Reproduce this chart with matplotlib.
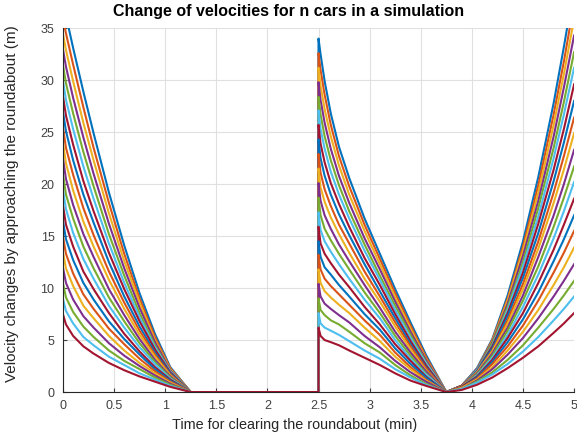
import matplotlib
matplotlib.use("Agg")
import matplotlib.pyplot as plt

# MATLAB default line colour order
colors = ["#0072BD", "#D95319", "#EDB120", "#7E2F8E", "#77AC30", "#4DBEEE", "#A2142F"]

# sample times (min) for each phase; every phase ends (or starts) at 0 m
t_brake1 = [0.0, 0.03, 0.1, 0.2, 0.3, 0.45, 0.6, 0.75, 0.9, 1.05]
t_wait = [1.25, 2.5]
t_brake2 = [2.5, 2.52, 2.56, 2.62, 2.7, 2.8, 2.95, 3.1, 3.25, 3.4, 3.55]
t_accel = [3.75, 3.9, 4.05, 4.2, 4.35, 4.5, 4.65, 4.8, 4.9, 5.0]

# velocities, one row per car (outer curve first)
brake1 = [
    [37.5, 36.2, 33.1, 28.9, 24.9, 19.2, 14.1, 9.5, 5.6, 2.4],
    [36.0, 34.5, 31.5, 27.4, 23.5, 18.2, 13.3, 9.0, 5.3, 2.3],
    [34.5, 32.9, 29.9, 25.9, 22.3, 17.2, 12.6, 8.6, 5.0, 2.2],
    [33.0, 31.3, 28.3, 24.5, 21.0, 16.2, 11.9, 8.1, 4.8, 2.1],
    [31.5, 29.7, 26.8, 23.1, 19.8, 15.2, 11.2, 7.6, 4.5, 2.0],
    [30.0, 28.1, 25.3, 21.7, 18.6, 14.3, 10.5, 7.2, 4.3, 2.0],
    [28.5, 26.6, 23.8, 20.3, 17.4, 13.4, 9.9, 6.8, 4.1, 1.9],
    [27.0, 25.1, 22.3, 19.0, 16.3, 12.5, 9.2, 6.3, 3.8, 1.8],
    [25.5, 23.5, 20.9, 17.7, 15.1, 11.6, 8.6, 5.9, 3.6, 1.7],
    [24.0, 22.0, 19.4, 16.4, 14.0, 10.8, 8.0, 5.5, 3.4, 1.6],
    [22.5, 20.5, 18.0, 15.2, 13.0, 9.9, 7.4, 5.1, 3.1, 1.5],
    [21.0, 19.0, 16.7, 14.0, 11.9, 9.1, 6.8, 4.7, 2.9, 1.4],
    [19.5, 17.6, 15.3, 12.8, 10.9, 8.3, 6.2, 4.3, 2.7, 1.3],
    [18.0, 16.1, 14.0, 11.6, 9.9, 7.6, 5.6, 3.9, 2.4, 1.2],
    [16.5, 14.7, 12.7, 10.5, 8.9, 6.8, 5.1, 3.6, 2.2, 1.1],
    [15.0, 13.3, 11.4, 9.4, 8.0, 6.1, 4.6, 3.2, 2.0, 1.0],
    [13.5, 11.9, 10.2, 8.3, 7.1, 5.4, 4.0, 2.8, 1.8, 0.9],
    [12.0, 10.5, 8.9, 7.3, 6.2, 4.7, 3.5, 2.5, 1.6, 0.8],
    [10.5, 9.1, 7.7, 6.3, 5.3, 4.0, 3.0, 2.2, 1.4, 0.7],
    [9.0, 7.8, 6.6, 5.3, 4.5, 3.4, 2.6, 1.8, 1.2, 0.6],
    [7.5, 6.5, 5.4, 4.4, 3.7, 2.8, 2.1, 1.5, 1.0, 0.5],
]
brake2 = [
    [34.0, 32.5, 29.9, 26.8, 23.6, 20.6, 16.7, 13.3, 9.9, 6.7, 3.6],
    [32.6, 31.0, 28.6, 25.7, 22.7, 19.8, 16.1, 12.8, 9.5, 6.4, 3.4],
    [31.2, 29.5, 27.2, 24.6, 21.8, 19.0, 15.5, 12.3, 9.1, 6.1, 3.2],
    [29.8, 28.1, 25.9, 23.4, 20.8, 18.2, 14.8, 11.8, 8.7, 5.8, 3.1],
    [28.4, 26.7, 24.6, 22.3, 19.9, 17.4, 14.2, 11.2, 8.3, 5.5, 2.9],
    [27.1, 25.3, 23.4, 21.2, 19.0, 16.7, 13.6, 10.8, 7.9, 5.2, 2.8],
    [25.7, 23.9, 22.1, 20.1, 18.1, 15.9, 12.9, 10.3, 7.5, 4.9, 2.6],
    [24.3, 22.5, 20.8, 19.0, 17.1, 15.1, 12.3, 9.7, 7.1, 4.6, 2.4],
    [22.9, 21.1, 19.5, 17.9, 16.1, 14.3, 11.6, 9.2, 6.7, 4.4, 2.3],
    [21.5, 19.7, 18.3, 16.8, 15.2, 13.4, 10.9, 8.7, 6.3, 4.1, 2.1],
    [20.1, 18.4, 17.0, 15.7, 14.2, 12.6, 10.3, 8.1, 5.8, 3.8, 2.0],
    [18.7, 17.0, 15.7, 14.6, 13.3, 11.8, 9.6, 7.6, 5.4, 3.5, 1.8],
    [17.3, 15.6, 14.5, 13.5, 12.3, 10.9, 8.9, 7.1, 5.0, 3.2, 1.7],
    [15.9, 14.3, 13.3, 12.4, 11.3, 10.1, 8.2, 6.5, 4.6, 3.0, 1.5],
    [14.5, 13.0, 12.0, 11.3, 10.3, 9.2, 7.5, 6.0, 4.2, 2.7, 1.4],
    [13.2, 11.8, 10.9, 10.2, 9.4, 8.4, 6.9, 5.5, 3.8, 2.4, 1.2],
    [11.8, 10.5, 9.7, 9.1, 8.4, 7.6, 6.2, 4.9, 3.4, 2.2, 1.1],
    [10.4, 9.2, 8.5, 8.0, 7.4, 6.7, 5.4, 4.3, 3.0, 1.9, 1.0],
    [9.0, 7.9, 7.4, 6.9, 6.5, 5.8, 4.7, 3.8, 2.6, 1.6, 0.8],
    [7.6, 6.6, 6.2, 5.9, 5.5, 4.9, 4.0, 3.2, 2.2, 1.4, 0.7],
    [6.2, 5.4, 5.0, 4.8, 4.5, 4.0, 3.3, 2.6, 1.8, 1.1, 0.6],
]
accel = [
    [0.6, 2.3, 5.1, 9.3, 14.5, 20.7, 27.8, 33.2, 39.0],
    [0.6, 2.2, 5.0, 9.0, 14.0, 19.9, 26.7, 31.8, 37.4],
    [0.6, 2.2, 4.9, 8.8, 13.6, 19.2, 25.7, 30.6, 35.9],
    [0.6, 2.2, 4.8, 8.5, 13.1, 18.4, 24.6, 29.3, 34.3],
    [0.6, 2.1, 4.7, 8.2, 12.5, 17.7, 23.5, 27.9, 32.7],
    [0.6, 2.1, 4.5, 7.9, 12.1, 16.9, 22.5, 26.7, 31.2],
    [0.6, 2.0, 4.4, 7.6, 11.5, 16.2, 21.4, 25.3, 29.6],
    [0.6, 2.0, 4.2, 7.3, 11.0, 15.3, 20.3, 24.0, 28.0],
    [0.6, 1.9, 4.0, 6.9, 10.4, 14.5, 19.2, 22.7, 26.4],
    [0.5, 1.9, 3.9, 6.6, 9.9, 13.8, 18.2, 21.4, 24.9],
    [0.5, 1.8, 3.7, 6.2, 9.3, 13.0, 17.0, 20.0, 23.3],
    [0.5, 1.7, 3.5, 5.9, 8.8, 12.1, 15.9, 18.7, 21.7],
    [0.5, 1.6, 3.3, 5.5, 8.2, 11.3, 14.8, 17.4, 20.2],
    [0.5, 1.5, 3.1, 5.2, 7.6, 10.5, 13.7, 16.1, 18.6],
    [0.4, 1.4, 2.9, 4.8, 7.0, 9.6, 12.6, 14.7, 17.0],
    [0.4, 1.3, 2.7, 4.4, 6.4, 8.8, 11.5, 13.4, 15.5],
    [0.4, 1.2, 2.4, 4.0, 5.8, 7.9, 10.3, 12.0, 13.9],
    [0.3, 1.1, 2.2, 3.6, 5.2, 7.1, 9.2, 10.7, 12.3],
    [0.3, 1.0, 1.9, 3.1, 4.5, 6.2, 8.0, 9.3, 10.7],
    [0.3, 0.9, 1.7, 2.7, 3.9, 5.3, 6.9, 8.0, 9.2],
    [0.2, 0.7, 1.4, 2.3, 3.3, 4.4, 5.7, 6.6, 7.6],
]

x_ticks = [0, 0.5, 1, 1.5, 2, 2.5, 3, 3.5, 4, 4.5, 5]
x_tick_labels = ["0", "0.5", "1", "1.5", "2", "2.5", "3", "3.5", "4", "4.5", "5"]
y_ticks = [0, 5, 10, 15, 20, 25, 30, 35]

plt.rcParams["font.family"] = ["Liberation Sans", "DejaVu Sans"]

fig = plt.figure(figsize=(5.77, 4.40), dpi=100)
ax = fig.add_axes([0.109, 0.109, 0.886, 0.827])

t = t_brake1 + t_wait + t_brake2 + t_accel
for i in range(len(brake1)):
    v = brake1[i] + [0.0, 0.0] + brake2[i] + [0.0] + accel[i]
    ax.plot(t, v, color=colors[i % len(colors)], linewidth=1.5)

ax.set_xlim(0, 5)
ax.set_ylim(0, 35)
ax.set_xticks(x_ticks)
ax.set_xticklabels(x_tick_labels)
ax.set_yticks(y_ticks)
ax.grid(True, color="#e0e0e0", linewidth=0.8)
ax.set_axisbelow(True)
ax.tick_params(direction="in", length=3, labelsize=9, colors="#404040", pad=6)
for side in ("top", "right"):
    ax.spines[side].set_visible(False)
for side in ("left", "bottom"):
    ax.spines[side].set_color("#262626")
    ax.spines[side].set_linewidth(0.8)

fig.text(0.5, 0.973, "Change of velocities for n cars in a simulation",
         ha="center", va="center", fontsize=11.5, fontweight="bold")
fig.text(0.511, 0.034, "Time for clearing the roundabout (min)",
         ha="center", va="center", fontsize=10.4, color="#262626")
fig.text(0.021, 0.537, "Velocity changes by approaching the roundabout (m)",
         ha="center", va="center", rotation=90, fontsize=11, color="#262626")

fig.savefig("out.png", dpi=100)
